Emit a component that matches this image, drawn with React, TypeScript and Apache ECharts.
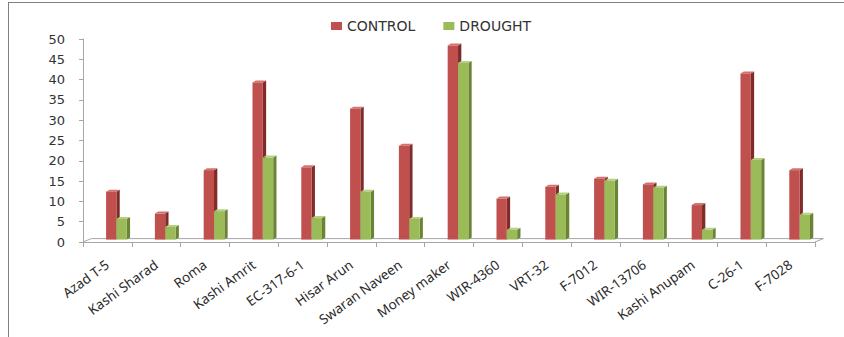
import React, { useEffect, useRef } from "react";
import * as echarts from "echarts";

const categories = [
  "Azad T-5", "Kashi Sharad", "Roma", "Kashi Amrit", "EC-317-6-1", "Hisar Arun",
  "Swaran Naveen", "Money maker", "WIR-4360", "VRT-32", "F-7012", "WIR-13706",
  "Kashi Anupam", "C-26-1", "F-7028",
];
const control = [11.8, 6.4, 17.1, 38.7, 17.8, 32.2, 23.1, 47.8, 10.1, 13.0, 15.0, 13.6, 8.5, 40.9, 17.1];
const drought = [5.1, 3.1, 7.0, 20.2, 5.3, 11.8, 5.1, 43.5, 2.4, 11.1, 14.5, 12.8, 2.4, 19.6, 6.1];
const yTicks = { min: 0, max: 50, interval: 5 };

const RED = { front: "#C0504D", side: "#7E2B29", top: "#D27370" };
const GREEN = { front: "#9BBB59", side: "#6A8436", top: "#B6CF83" };

function makeRender(which: number, c: { front: string; side: string; top: string }) {
  return (params: any, api: any) => {
    const idx = api.value(0);
    const v = api.value(1);
    const p0 = api.coord([idx, 0]);
    const p1 = api.coord([idx, v]);
    const band = api.size([1, 0])[0];
    const w = band * 0.212;
    const cx = p0[0] + band * 0.185;
    const x0 = which === 0 ? cx - w : cx;
    const dy = -2.4;
    const yb = p0[1] + dy;
    const yt = p1[1] + dy;
    const ddx = 3.3;
    const ddy = -2;
    return {
      type: "group",
      children: [
        {
          type: "polygon",
          shape: { points: [[x0 + w, yb], [x0 + w + ddx, yb + ddy], [x0 + w + ddx, yt + ddy], [x0 + w, yt]] },
          style: { fill: c.side },
        },
        {
          type: "polygon",
          shape: { points: [[x0, yt], [x0 + ddx, yt + ddy], [x0 + w + ddx, yt + ddy], [x0 + w, yt]] },
          style: { fill: c.top },
        },
        {
          type: "rect",
          shape: { x: x0, y: yt, width: w, height: yb - yt },
          style: { fill: c.front },
        },
      ],
    };
  };
}

const floorRender = (params: any, api: any) => {
  const cs = params.coordSys;
  const x0 = cs.x;
  const x1 = cs.x + cs.width;
  const y = cs.y + cs.height;
  const dx = 8.4;
  const dy = -3.4;
  return {
    type: "polyline",
    shape: { points: [[x0, y], [x0 + dx, y + dy], [x1 + dx, y + dy], [x1, y]] },
    style: { stroke: "#a6a6a6", lineWidth: 1, fill: "none" },
    silent: true,
  };
};

export default function App() {
  const ref = useRef<HTMLDivElement>(null);
  useEffect(() => {
    if (!ref.current) return;
    const chart = echarts.init(ref.current, undefined, { renderer: "svg" });
    chart.setOption({
      animation: false,
      legend: {
        left: 326,
        top: 14,
        itemWidth: 11,
        itemHeight: 8,
        itemGap: 28,
        icon: "rect",
        textStyle: { fontFamily: "DejaVu Sans", fontSize: 14, color: "#333" },
        data: ["CONTROL", "DROUGHT"],
      },
      grid: { left: 83, right: 29, top: 39, bottom: 95, containLabel: false },
      xAxis: {
        type: "category",
        data: categories,
        boundaryGap: true,
        axisLine: { show: true, lineStyle: { color: "#a6a6a6" } },
        axisTick: { show: true, length: 5, alignWithLabel: false, lineStyle: { color: "#a6a6a6" } },
        axisLabel: {
          interval: 0,
          rotate: 36,
          margin: 21,
          fontFamily: "Noto Sans",
          fontSize: 13.5,
          color: "#2b2b2b",
        },
      },
      yAxis: {
        type: "value",
        min: yTicks.min,
        max: yTicks.max,
        interval: yTicks.interval,
        axisLine: { show: true, lineStyle: { color: "#a6a6a6" } },
        axisTick: { show: true, length: 4, lineStyle: { color: "#a6a6a6" } },
        splitLine: { show: false },
        axisLabel: { margin: 18, fontFamily: "DejaVu Sans", fontSize: 13, color: "#333" },
      },
      series: [
        {
          type: "custom",
          name: "floor",
          renderItem: floorRender,
          data: [[0, 0]],
          z: 1,
          silent: true,
          legendHoverLink: false,
        },
        {
          type: "custom",
          name: "CONTROL",
          renderItem: makeRender(0, RED),
          itemStyle: { color: RED.front },
          encode: { x: 0, y: 1 },
          data: categories.map((_, i) => [i, control[i]]),
          z: 2,
        },
        {
          type: "custom",
          name: "DROUGHT",
          renderItem: makeRender(1, GREEN),
          itemStyle: { color: GREEN.front },
          encode: { x: 0, y: 1 },
          data: categories.map((_, i) => [i, drought[i]]),
          z: 3,
        },
      ],
    });
    return () => chart.dispose();
  }, []);
  return (
    <div style={{ position: "fixed", left: 0, top: 0, width: 844, height: 337, overflow: "hidden", background: "#fff" }}>
      <div
        style={{
          position: "absolute",
          left: 8,
          top: 2,
          width: 900,
          height: 400,
          border: "1px solid #808080",
        }}
      />
      <div ref={ref} style={{ position: "absolute", left: 0, top: 0, width: 844, height: 337 }} />
    </div>
  );
}
